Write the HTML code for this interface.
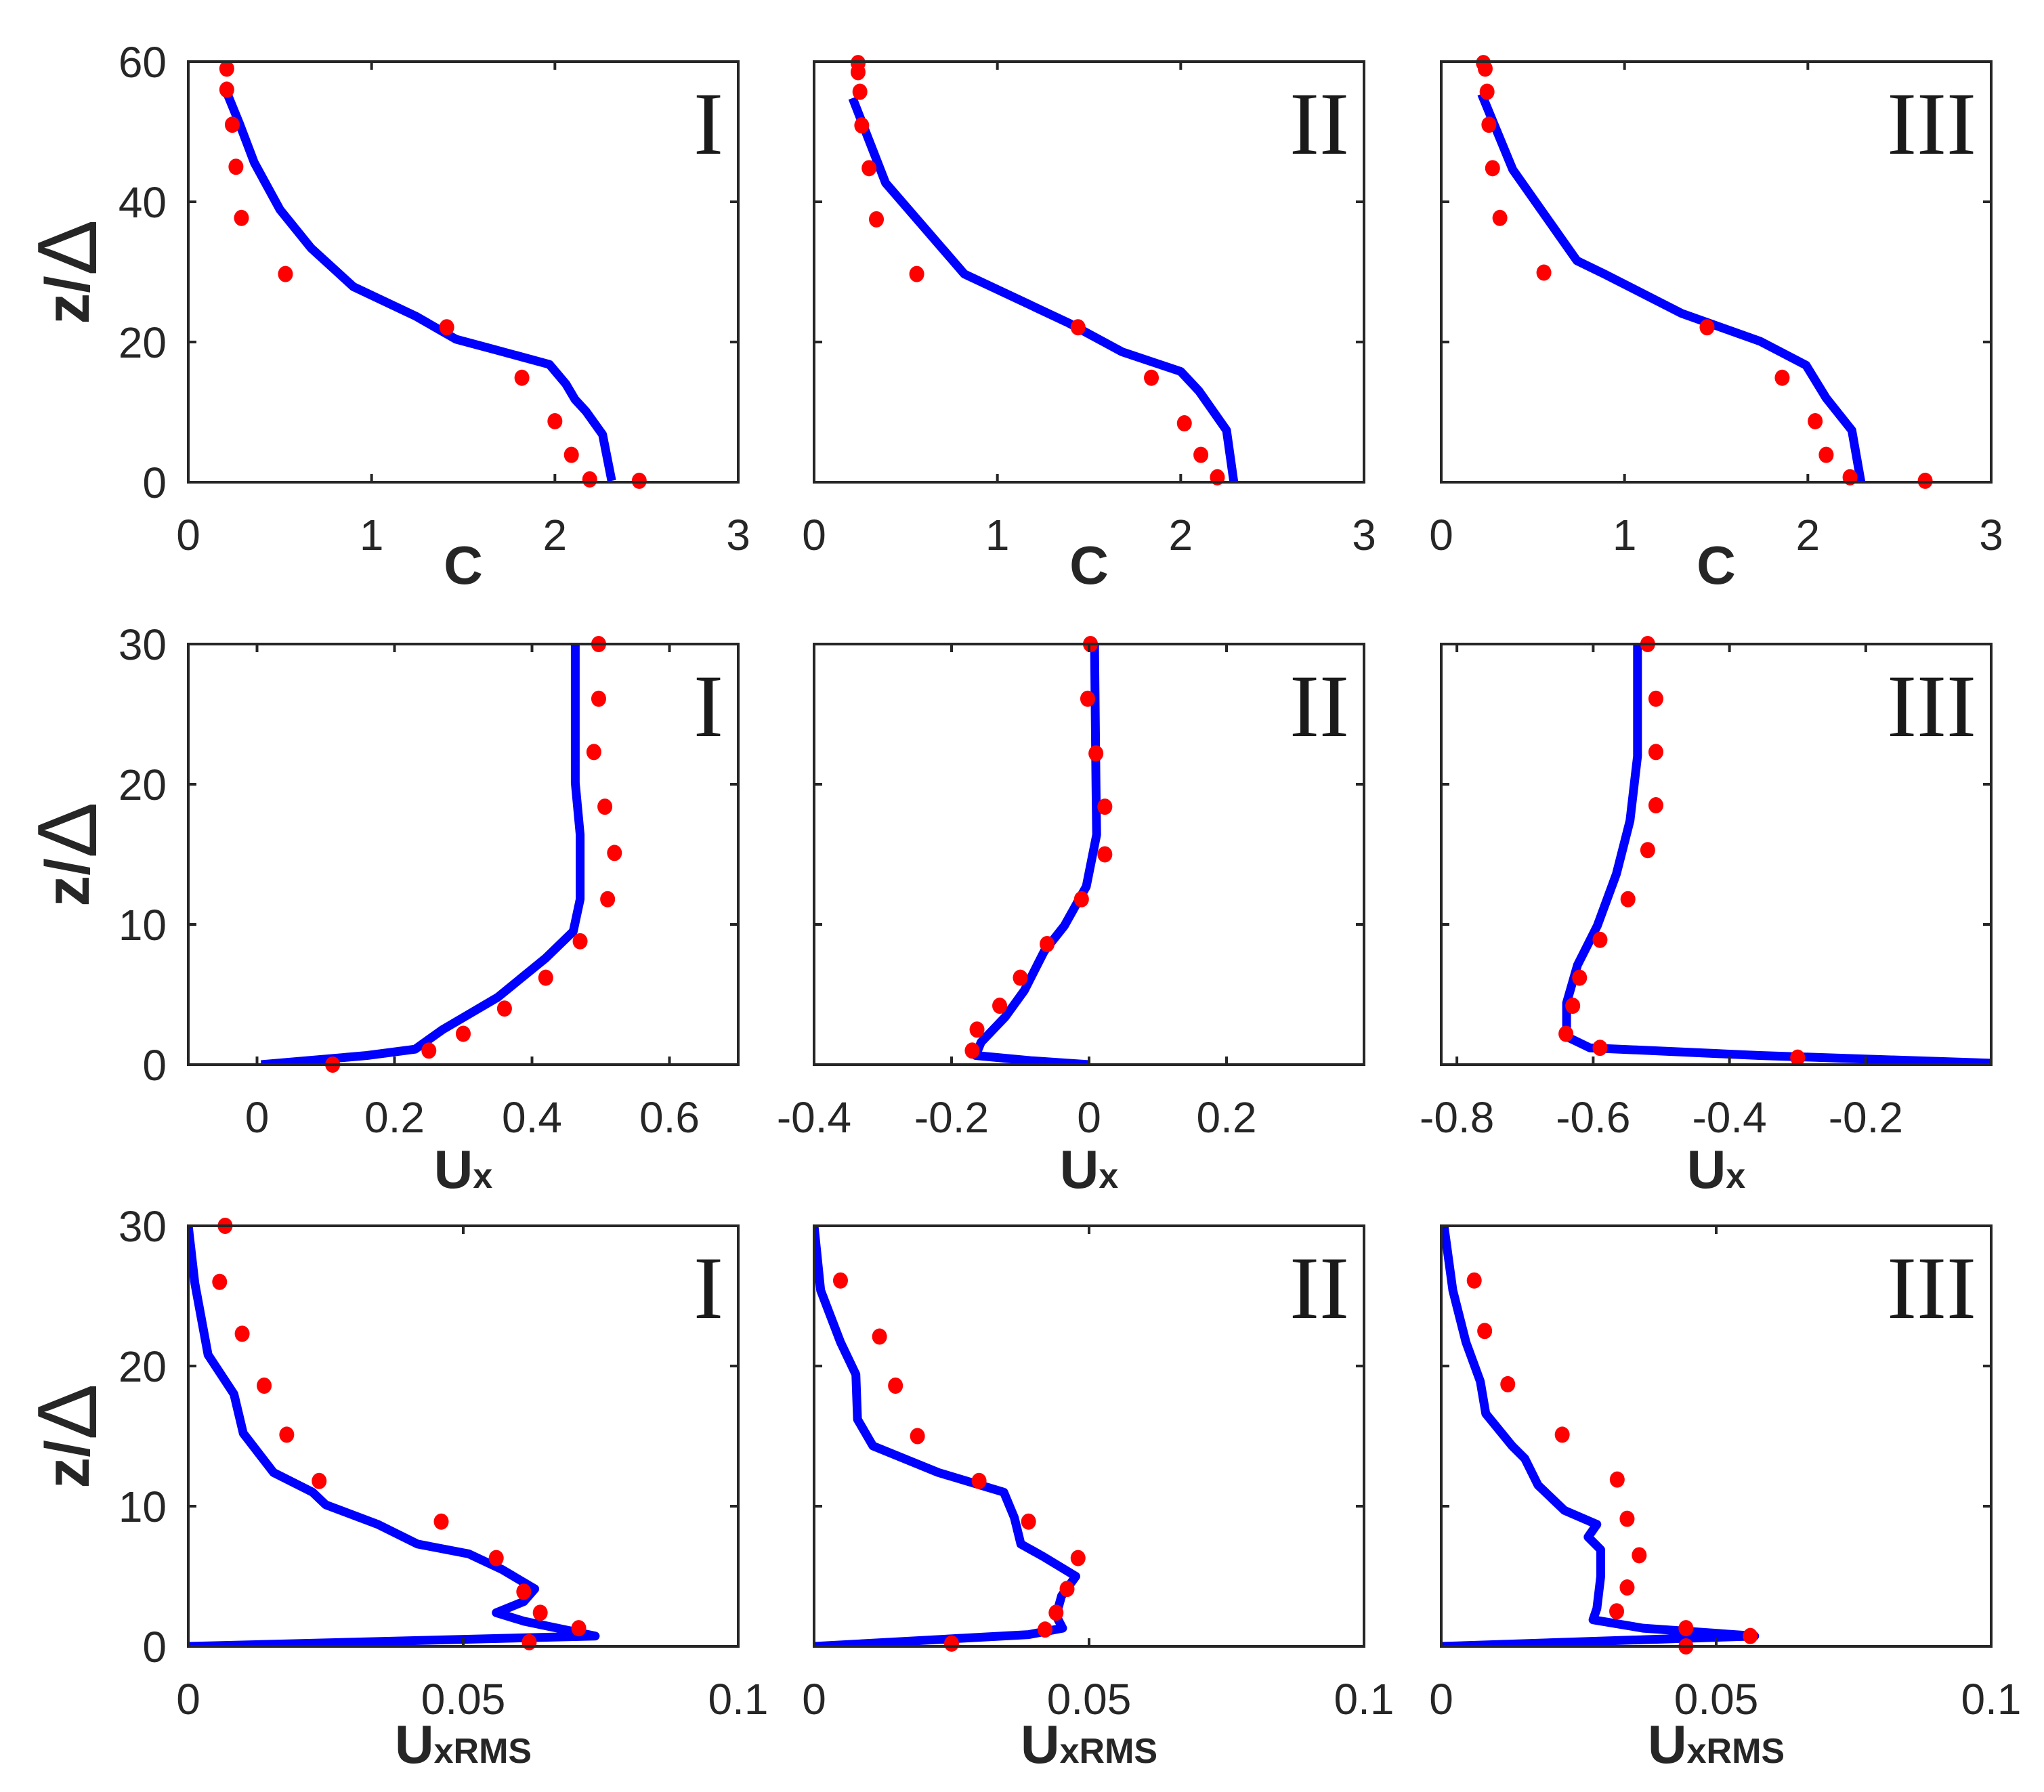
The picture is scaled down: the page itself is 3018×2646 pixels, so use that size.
<!DOCTYPE html>
<html><head><meta charset="utf-8"><style>
html,body{margin:0;padding:0;background:#fff}
svg{display:block}
</style></head><body>
<svg id="fig" xmlns="http://www.w3.org/2000/svg" width="3018" height="2646" viewBox="0 0 3018 2646"></svg>
<script>
// ---- data ----
const cLineI_x=[0.21,0.28,0.36,0.50,0.67,0.90,1.24,1.46,1.66,1.97,2.06,2.11,2.17,2.26,2.31];
const cLineI_z=[55.6,51.1,45.6,38.9,33.4,27.9,23.7,20.4,19.0,16.8,14.0,11.8,10.1,6.8,0.2];
const cDotI_x=[0.21,0.21,0.24,0.26,0.29,0.53,1.41,1.82,2.0,2.09,2.19,2.46];
const cDotI_z=[59,56,51,45,37.7,29.7,22.1,14.9,8.7,3.9,0.4,0.2];
const cLineII_x=[0.21,0.39,0.82,1.39,1.68,2.0,2.1,2.25,2.29];
const cLineII_z=[54.8,42.7,29.7,22.7,18.6,15.8,13,7.4,0];
const cDotII_x=[0.24,0.24,0.25,0.26,0.30,0.34,0.56,1.44,1.84,2.02,2.11,2.2];
const cDotII_z=[59.8,58.5,55.7,50.9,44.8,37.5,29.7,22.1,14.9,8.4,3.9,0.7];
const cLineIII_x=[0.22,0.39,0.74,0.89,1.31,1.74,1.99,2.1,2.24,2.29];
const cLineIII_z=[55.4,44.6,31.6,29.7,24.1,20.1,16.7,12,7.4,0];
const cDotIII_x=[0.23,0.24,0.25,0.26,0.28,0.32,0.56,1.45,1.86,2.04,2.1,2.23,2.64];
const cDotIII_z=[59.8,59,55.7,51,44.8,37.7,29.9,22.1,14.9,8.7,3.9,0.7,0.2];

const uLineI_x=[0.463,0.463,0.47,0.47,0.46,0.42,0.35,0.27,0.23,0.16,0.006];
const uLineI_z=[30,20.1,16.4,11.8,9.5,7.6,4.8,2.5,1.1,0.65,0];
const uDotI_x=[0.497,0.497,0.49,0.506,0.52,0.51,0.47,0.42,0.36,0.30,0.25,0.11];
const uDotI_z=[30,26.1,22.3,18.4,15.1,11.8,8.8,6.2,4.0,2.2,1.0,0];
const uLineII_x=[0.008,0.01,0.011,-0.004,-0.036,-0.065,-0.094,-0.122,-0.157,-0.165,-0.084,0];
const uLineII_z=[30,20.1,16.4,12.7,9.9,8.1,5.3,3.4,1.6,0.65,0.28,0];
const uDotII_x=[0.002,-0.002,0.01,0.023,0.023,-0.011,-0.061,-0.1,-0.13,-0.163,-0.17];
const uDotII_z=[30,26.1,22.2,18.4,15,11.8,8.6,6.2,4.2,2.5,1.0];
const uLineIII_x=[-0.535,-0.535,-0.546,-0.566,-0.594,-0.623,-0.639,-0.639,-0.605,-0.356,-0.016];
const uLineIII_z=[30,22,17.4,13.6,9.9,7.1,4.4,2.0,1.2,0.65,0.1];
const uDotIII_x=[-0.52,-0.508,-0.508,-0.508,-0.52,-0.549,-0.59,-0.62,-0.63,-0.64,-0.59,-0.30];
const uDotIII_z=[30,26.1,22.3,18.5,15.3,11.8,8.9,6.2,4.2,2.2,1.2,0.5];

const rLineI_x=[0,0.0012,0.0036,0.0083,0.010,0.0155,0.0226,0.025,0.0345,0.0417,0.051,0.057,0.063,0.061,0.056,0.061,0.074,0];
const rLineI_z=[30,25.9,20.8,18,15.2,12.4,11,10.1,8.7,7.3,6.6,5.5,4.1,3.2,2.4,1.8,0.74,0];
const rDotI_x=[0.0067,0.0057,0.0098,0.0138,0.0179,0.0238,0.046,0.056,0.061,0.064,0.071,0.062];
const rDotI_z=[30,26,22.3,18.6,15.1,11.8,8.9,6.3,3.9,2.4,1.3,0.3];
const rLineII_x=[0,0.0012,0.0048,0.0076,0.0079,0.0107,0.0226,0.0345,0.0364,0.0376,0.0417,0.0476,0.045,0.044,0.0452,0.039,0];
const rLineII_z=[30,25.4,21.7,19.4,16.2,14.3,12.4,11,9.2,7.3,6.4,5,3.6,2.2,1.3,0.84,0];
const rDotII_x=[0.0048,0.0119,0.0148,0.0188,0.03,0.039,0.048,0.046,0.044,0.042,0.025];
const rDotII_z=[26.1,22.1,18.6,15,11.8,8.9,6.3,4.1,2.4,1.2,0.2];
const rLineIII_x=[0.0005,0.0021,0.0045,0.0071,0.0081,0.0129,0.0152,0.0176,0.0224,0.0283,0.0267,0.029,0.029,0.0283,0.0276,0.0367,0.057,0];
const rLineIII_z=[30,25.4,21.7,18.9,16.6,14.3,13.4,11.5,9.7,8.7,7.8,6.9,5,2.7,1.9,1.3,0.74,0];
const rDotIII_x=[0.006,0.0079,0.0121,0.022,0.032,0.0338,0.036,0.0338,0.0319,0.0445,0.0562,0.0445];
const rDotIII_z=[26.1,22.5,18.7,15.1,11.9,9.1,6.5,4.2,2.5,1.3,0.74,0];

const cTicks=["0","1","2","3"];
const cZTicks=["0","20","40","60"];
const uZTicks=["0","10","20","30"];
const uTicksI=["0","0.2","0.4","0.6"];
const uTicksII=["-0.4","-0.2","0","0.2"];
const uTicksIII=["-0.8","-0.6","-0.4","-0.2"];
const rTicks=["0","0.05","0.1"];
const romans=["I","II","III"];

// ---- layout ----
const NS="http://www.w3.org/2000/svg";
const svg=document.getElementById('fig');
const colX=[278,1202,2128], W=812, rowY=[91,951,1810], H=621;
function el(tag,attrs,parent){const e=document.createElementNS(NS,tag);for(const k in attrs)e.setAttribute(k,attrs[k]);(parent||svg).appendChild(e);return e;}

const panels=[
 {r:0,c:0,xl:[0,3],yl:[0,60],xt:cTicks,yt:cZTicks,lx:cLineI_x,lz:cLineI_z,dx:cDotI_x,dz:cDotI_z,lab:"C",sub:""},
 {r:0,c:1,xl:[0,3],yl:[0,60],xt:cTicks,yt:cZTicks,lx:cLineII_x,lz:cLineII_z,dx:cDotII_x,dz:cDotII_z,lab:"C",sub:""},
 {r:0,c:2,xl:[0,3],yl:[0,60],xt:cTicks,yt:cZTicks,lx:cLineIII_x,lz:cLineIII_z,dx:cDotIII_x,dz:cDotIII_z,lab:"C",sub:""},
 {r:1,c:0,xl:[-0.1,0.7],yl:[0,30],xt:uTicksI,yt:uZTicks,lx:uLineI_x,lz:uLineI_z,dx:uDotI_x,dz:uDotI_z,lab:"U",sub:"x"},
 {r:1,c:1,xl:[-0.4,0.4],yl:[0,30],xt:uTicksII,yt:uZTicks,lx:uLineII_x,lz:uLineII_z,dx:uDotII_x,dz:uDotII_z,lab:"U",sub:"x"},
 {r:1,c:2,xl:[-0.823,-0.016],yl:[0,30],xt:uTicksIII,yt:uZTicks,lx:uLineIII_x,lz:uLineIII_z,dx:uDotIII_x,dz:uDotIII_z,lab:"U",sub:"x"},
 {r:2,c:0,xl:[0,0.1],yl:[0,30],xt:rTicks,yt:uZTicks,lx:rLineI_x,lz:rLineI_z,dx:rDotI_x,dz:rDotI_z,lab:"U",sub:"xRMS"},
 {r:2,c:1,xl:[0,0.1],yl:[0,30],xt:rTicks,yt:uZTicks,lx:rLineII_x,lz:rLineII_z,dx:rDotII_x,dz:rDotII_z,lab:"U",sub:"xRMS"},
 {r:2,c:2,xl:[0,0.1],yl:[0,30],xt:rTicks,yt:uZTicks,lx:rLineIII_x,lz:rLineIII_z,dx:rDotIII_x,dz:rDotIII_z,lab:"U",sub:"xRMS"}
];
const tickFont='"Liberation Sans", sans-serif';
panels.forEach(p=>{
  const x0=colX[p.c], y0=rowY[p.r];
  const g=el('g',{});
  
  
  const sx=v=>x0+(v-p.xl[0])/(p.xl[1]-p.xl[0])*W;
  const sy=v=>y0+H-(v-p.yl[0])/(p.yl[1]-p.yl[0])*H;
  const cid='clip'+p.r+p.c;
  const cp=el('clipPath',{id:cid},g); el('rect',{x:x0,y:y0,width:W,height:H},cp);
  const pts=p.lx.map((v,i)=>sx(v).toFixed(1)+','+sy(p.lz[i]).toFixed(1)).join(' ');
  const pl=el('polyline',{points:pts,fill:'none',stroke:'#0000ff','stroke-width':13,'stroke-linejoin':'round','stroke-linecap':'butt','clip-path':'url(#'+cid+')'},g);
  
  
  p.dx.forEach((v,i)=>{
    const d=el('ellipse',{cx:sx(v),cy:sy(p.dz[i]),rx:11,ry:12,fill:'#ff0000'},g);
    
    
  });
  const fr=el('rect',{x:x0,y:y0,width:W,height:H,fill:'none',stroke:'#262626','stroke-width':4},g);
  
  
  p.xt.forEach(t=>{
    const X=sx(parseFloat(t));
    el('line',{x1:X,y1:y0+H,x2:X,y2:y0+H-12,stroke:'#262626','stroke-width':4},g);
    el('line',{x1:X,y1:y0,x2:X,y2:y0+12,stroke:'#262626','stroke-width':4},g);
    const tx=el('text',{x:X,y:y0+H+100,'font-family':tickFont,'font-size':64,fill:'#262626','text-anchor':'middle'},g);
    tx.textContent=t;
    
    
  });
  p.yt.forEach(t=>{
    const Y=sy(parseFloat(t));
    el('line',{x1:x0,y1:Y,x2:x0+12,y2:Y,stroke:'#262626','stroke-width':4},g);
    el('line',{x1:x0+W,y1:Y,x2:x0+W-12,y2:Y,stroke:'#262626','stroke-width':4},g);
    if(p.c===0){
      const ty=el('text',{x:x0-32,y:Y+23,'font-family':tickFont,'font-size':64,fill:'#262626','text-anchor':'end'},g);
      ty.textContent=t;
      
      
    }
  });
  const lblY = p.r===0 ? y0+H+150 : (p.r===1 ? y0+H+182 : y0+H+172);
  const xl=el('text',{x:x0+W/2,y:lblY,'font-family':tickFont,'font-size':80,'font-weight':'bold',fill:'#262626','text-anchor':'middle'},g);
  
  
  xl.appendChild(document.createTextNode(p.lab));
  if(p.sub){const ts=el('tspan',{'font-size':52},xl);ts.textContent=p.sub;}
  const rn=el('text',{x:x0+W-22,y:y0+136,'font-family':'"Liberation Serif", serif','font-size':132,fill:'#1a1a1a','text-anchor':'end'},g);
  rn.textContent=romans[p.c];
  
  
  if(p.c===0){
    const cy=y0+H/2;
    const yl=el('text',{x:100,y:cy,transform:'rotate(-90 100 '+cy+')','font-family':'"Liberation Sans","DejaVu Sans", sans-serif','font-size':92,'font-weight':'bold',fill:'#262626','text-anchor':'middle','dominant-baseline':'central'},g);
    
    
    yl.appendChild(document.createTextNode('z/'));
    const dl=el('tspan',{'font-size':124,'font-weight':'normal'},yl); dl.textContent='Δ';
  }
});
</script>
</body></html>
